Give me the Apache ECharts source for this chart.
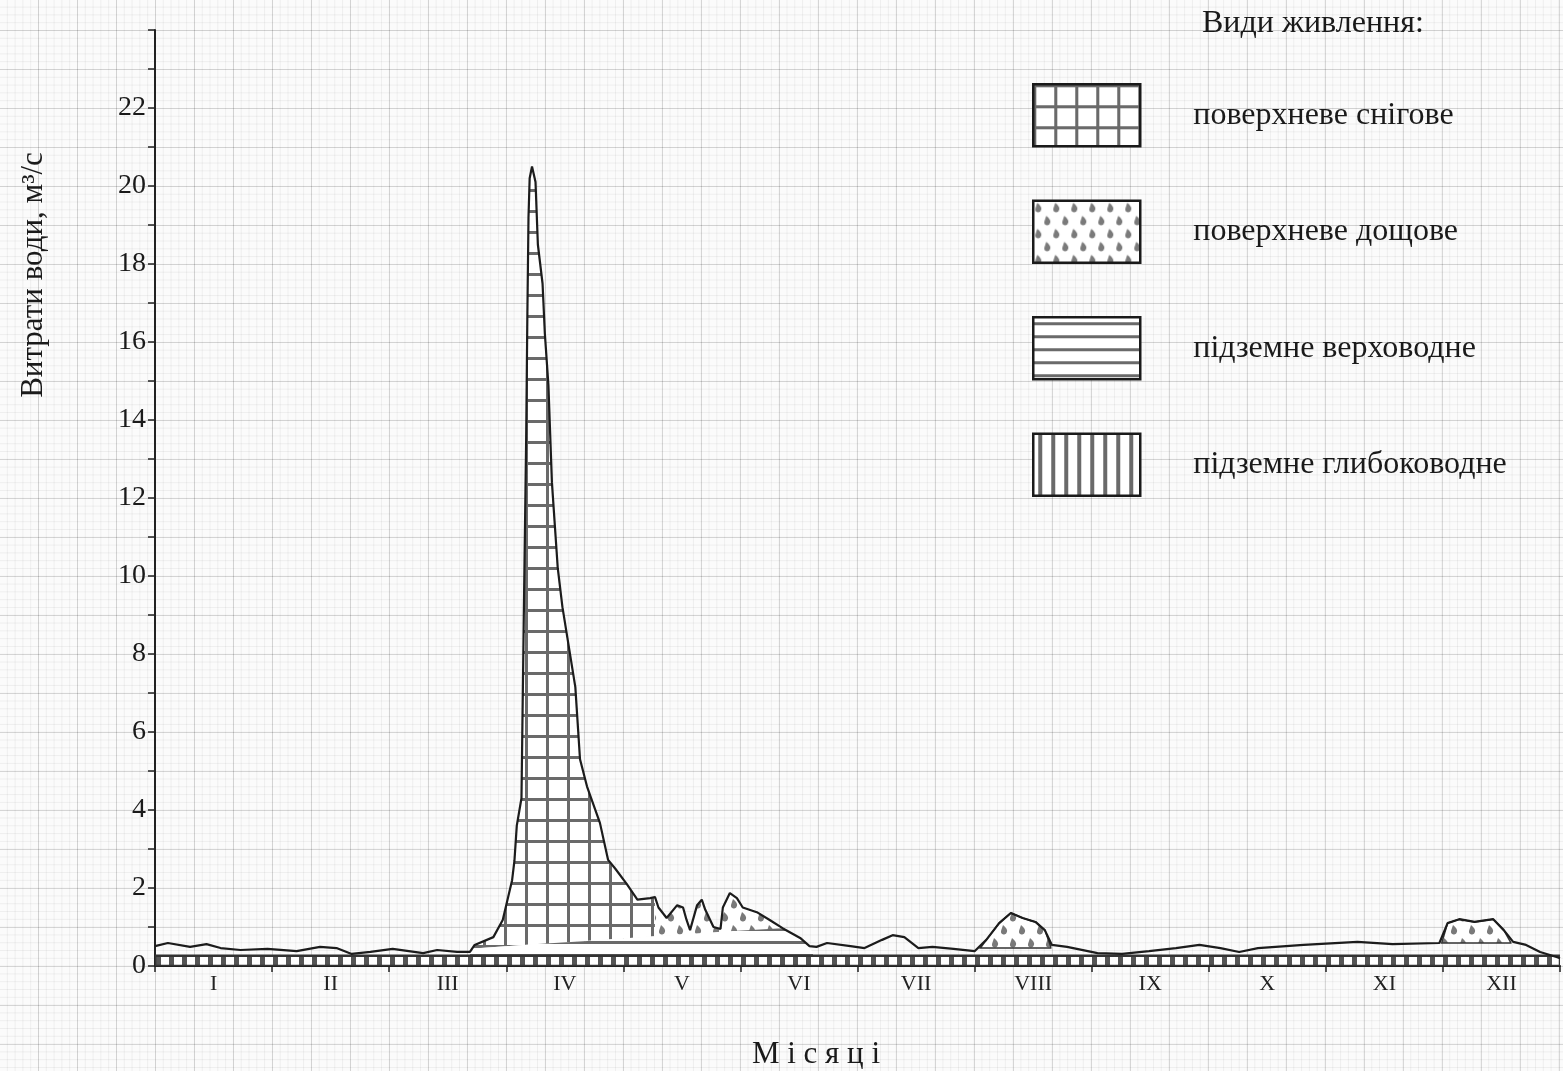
<!DOCTYPE html>
<html>
<head>
<meta charset="utf-8">
<script src="https://cdn.jsdelivr.net/npm/echarts@6/dist/echarts.min.js"></script>
<style>
html,body{margin:0;padding:0;width:1563px;height:1071px;overflow:hidden;}
body{
  background-color:#fbfbfb;
  background-image:
    linear-gradient(to right, rgba(0,0,0,0.12) 1px, transparent 1px),
    linear-gradient(to bottom, rgba(0,0,0,0.12) 1px, transparent 1px),
    linear-gradient(to right, rgba(0,0,0,0.05) 1px, transparent 1px),
    linear-gradient(to bottom, rgba(0,0,0,0.05) 1px, transparent 1px);
  background-size:39px 39px,39px 39px,7.8px 7.8px,7.8px 7.8px;
  background-position:38px 30px,38px 30px,38px 30px,38px 30px;
}
#chart{width:1563px;height:1071px;}
</style>
</head>
<body>
<div id="chart"></div>
<script>
// ---- data (x in months from 1 Jan, y in m3/s) ----
const months = ['I','II','III','IV','V','VI','VII','VIII','IX','X','XI','XII'];
const legendNames = ['поверхневе снігове','поверхневе дощове','підземне верховодне','підземне глибоководне'];

// total discharge (hydrograph)
const flowT = [0,0.11,0.30,0.44,0.56,0.73,0.96,1.21,1.41,1.55,1.68,1.84,2.03,2.29,2.41,2.58,2.69,2.73,2.89,2.97,3.05,3.07,3.09,3.13,3.15,3.17,3.18,3.19,3.20,3.22,3.25,3.27,3.31,3.33,3.36,3.39,3.44,3.48,3.59,3.63,3.69,3.80,3.87,3.93,4.03,4.12,4.23,4.27,4.30,4.37,4.46,4.51,4.54,4.57,4.63,4.67,4.70,4.77,4.83,4.85,4.91,4.97,5.02,5.14,5.25,5.36,5.51,5.59,5.65,5.74,5.94,6.06,6.21,6.30,6.40,6.52,6.64,6.82,7.00,7.10,7.21,7.31,7.41,7.52,7.60,7.66,7.79,8.05,8.26,8.49,8.72,8.92,9.10,9.26,9.42,9.81,10.27,10.57,10.97,11.04,11.14,11.27,11.43,11.52,11.60,11.71,11.83,11.97,12];
const flowQ = [0.51,0.59,0.49,0.56,0.46,0.41,0.44,0.38,0.49,0.46,0.31,0.36,0.44,0.33,0.41,0.36,0.36,0.54,0.74,1.18,2.2,2.7,3.6,4.3,9.0,13.5,16.6,19.2,20.2,20.5,20.1,18.5,17.5,16.2,14.9,12.4,10.2,9.2,7.15,5.3,4.6,3.67,2.72,2.5,2.1,1.7,1.74,1.77,1.5,1.23,1.56,1.5,1.18,0.92,1.56,1.7,1.44,1.0,0.95,1.5,1.87,1.74,1.5,1.38,1.18,0.97,0.72,0.51,0.49,0.59,0.51,0.46,0.67,0.79,0.74,0.46,0.49,0.44,0.38,0.67,1.1,1.36,1.23,1.13,0.92,0.54,0.49,0.33,0.31,0.38,0.46,0.54,0.46,0.36,0.46,0.54,0.62,0.56,0.59,1.1,1.2,1.13,1.2,0.92,0.62,0.54,0.36,0.23,0.2];

// snow-fed flood (top edge = hydrograph, bottom edge = top of perched groundwater)
const snowTop = [[2.71,0.45],[2.73,0.54],[2.89,0.74],[2.97,1.18],[3.05,2.2],[3.07,2.7],[3.09,3.6],[3.13,4.3],[3.15,9.0],[3.17,13.5],[3.18,16.6],[3.19,19.2],[3.20,20.2],[3.22,20.5],[3.25,20.1],[3.27,18.5],[3.31,17.5],[3.33,16.2],[3.36,14.9],[3.39,12.4],[3.44,10.2],[3.48,9.2],[3.59,7.15],[3.63,5.3],[3.69,4.6],[3.80,3.67],[3.87,2.72],[3.93,2.5],[4.03,2.1],[4.12,1.7],[4.23,1.74],[4.27,1.77]];
const snowBottom = [[4.27,0.76],[2.71,0.45]];

// rain-fed floods
const rainMayTop = [[4.27,1.77],[4.30,1.5],[4.37,1.23],[4.46,1.56],[4.51,1.5],[4.54,1.18],[4.57,0.92],[4.63,1.56],[4.67,1.7],[4.70,1.44],[4.77,1.0],[4.83,0.95],[4.85,1.5],[4.91,1.87],[4.97,1.74],[5.02,1.5],[5.14,1.38],[5.25,1.18],[5.36,0.97]];
const rainMayBottom = [[5.36,0.95],[4.27,0.76]];
const rainAugTop = [[7.05,0.46],[7.10,0.67],[7.21,1.1],[7.31,1.36],[7.41,1.23],[7.52,1.13],[7.60,0.92],[7.65,0.5]];
const rainAugBottom = [[7.65,0.46],[7.05,0.46]];
const rainDecTop = [[10.99,0.59],[11.04,1.1],[11.14,1.2],[11.27,1.13],[11.43,1.2],[11.52,0.92],[11.58,0.6]];
const rainDecBottom = [[11.58,0.59],[10.99,0.59]];

// perched (upper) groundwater wedge
const perchedTop = [[2.69,0.30],[2.73,0.45],[3.2,0.55],[3.8,0.66],[4.3,0.77],[4.9,0.89],[5.36,0.97],[5.51,0.72],[5.59,0.51],[5.62,0.30]];
const perchedBottom = [[5.62,0.26],[2.69,0.26]];

// deep groundwater base strip
const deepTop = [[0,0.26],[12,0.26]];
const deepBottom = [[12,0],[0,0]];

// ---- patterns ----
function mk(w,h,draw){const c=document.createElement('canvas');c.width=w;c.height=h;const g=c.getContext('2d');g.fillStyle='#ffffff';g.fillRect(0,0,w,h);draw(g);return {image:c,repeat:'repeat'};}
const patGrid = mk(21,21,g=>{g.fillStyle='#6a6a6a';g.fillRect(0,0,3,21);g.fillRect(0,0,21,3);});
const patDrops = mk(18,26,g=>{
  g.fillStyle='#7a7a7a';
  function drop(x,y){g.beginPath();g.moveTo(x-1,y-5);g.quadraticCurveTo(x+4,y-1,x+3,y+2);g.arc(x,y+1.5,3,0.2,Math.PI*1.1);g.closePath();g.fill();}
  drop(5,7);drop(14,20);
});
const patHoriz = mk(4,13,g=>{g.fillStyle='#6a6a6a';g.fillRect(0,5,4,3);});
const patVert = mk(13,4,g=>{g.fillStyle='#6a6a6a';g.fillRect(5,0,4,4);});
const patDeep = mk(13,4,g=>{g.fillStyle='#555555';g.fillRect(0,0,5,4);});

function ring(top,bottom){return top.concat(bottom);}
function polySeries(name,pts,fill,z,stroke,lw){
  return {
    name:name,type:'custom',coordinateSystem:'cartesian2d',xAxisIndex:0,yAxisIndex:0,
    z:z,clip:true,silent:true,
    data:pts,encode:{x:0,y:1},
    itemStyle:{color:fill},
    renderItem:function(params,api){
      if(params.dataIndex!==0) return null;
      const p=[];for(let i=0;i<pts.length;i++){p.push(api.coord(pts[i]));}
      return {type:'polygon',shape:{points:p},style:{fill:fill,stroke:stroke||null,lineWidth:lw||0}};
    }
  };
}

const flowData = flowT.map((t,i)=>[t,flowQ[i]]);
const serif = '"Liberation Serif","DejaVu Serif",serif';

const chart = echarts.init(document.getElementById('chart'),null,{renderer:'canvas'});
chart.setOption({
  animation:false,
  backgroundColor:'transparent',
  title:{text:'Види живлення:',left:1202,top:8,padding:0,textStyle:{fontFamily:serif,fontSize:32,fontWeight:'normal',color:'#1a1a1a'}},
  legend:{
    orient:'vertical',left:1032,top:83,padding:0,itemWidth:107,itemHeight:62,itemGap:52,
    selectedMode:false,
    textStyle:{fontFamily:serif,fontSize:32,color:'#1a1a1a',padding:[0,0,6,48]},
    data:[
      {name:legendNames[0],icon:'rect',itemStyle:{color:patGrid,borderColor:'#1a1a1a',borderWidth:2.5}},
      {name:legendNames[1],icon:'rect',itemStyle:{color:patDrops,borderColor:'#1a1a1a',borderWidth:2.5}},
      {name:legendNames[2],icon:'rect',itemStyle:{color:patHoriz,borderColor:'#1a1a1a',borderWidth:2.5}},
      {name:legendNames[3],icon:'rect',itemStyle:{color:patVert,borderColor:'#1a1a1a',borderWidth:2.5}}
    ]
  },
  grid:{left:155,right:3,top:30,bottom:105,containLabel:false},
  xAxis:[
    {type:'value',min:0,max:12,interval:1,
     axisLine:{show:true,onZero:false,lineStyle:{color:'#222',width:2}},
     axisTick:{show:true,length:6,lineStyle:{color:'#222',width:1.5}},
     axisLabel:{show:false},splitLine:{show:false}},
    {type:'category',data:months,position:'bottom',boundaryGap:true,
     axisLine:{show:false},axisTick:{show:false},splitLine:{show:false},
     axisLabel:{fontFamily:serif,fontSize:22,color:'#222',margin:7}}
  ],
  yAxis:{type:'value',min:0,max:24,interval:2,
    axisLine:{show:true,lineStyle:{color:'#222',width:2}},
    axisTick:{show:true,length:7,lineStyle:{color:'#222',width:1.5}},
    minorTick:{show:true,splitNumber:2,length:7,lineStyle:{color:'#222',width:1.5}},
    splitLine:{show:false},
    axisLabel:{fontFamily:serif,fontSize:28,color:'#1a1a1a',margin:9,
      formatter:function(v){return v===24?'':String(v);}}
  },
  graphic:[
    {type:'text',x:34,y:275,rotation:Math.PI/2,style:{text:'Витрати води, м³/с',font:'31px '+serif,fill:'#1a1a1a',align:'center',verticalAlign:'middle'}},
    {type:'text',x:816,y:1055,style:{text:'М і с я ц і',font:'31px '+serif,fill:'#1a1a1a',align:'center',verticalAlign:'middle'}}
  ],
  series:[
    polySeries(legendNames[0],ring(snowTop,snowBottom),patGrid,2),
    polySeries(legendNames[1],ring(rainMayTop,rainMayBottom),patDrops,2),
    polySeries(legendNames[1]+' ',ring(rainAugTop,rainAugBottom),patDrops,2,'#333',1.5),
    polySeries(legendNames[1]+'  ',ring(rainDecTop,rainDecBottom),patDrops,2,'#333',1.5),
    polySeries(legendNames[2],ring(perchedTop,perchedBottom),patHoriz,3),
    polySeries(legendNames[3],ring(deepTop,deepBottom),patDeep,4,'#333',2.5),
    {name:'hydro',type:'line',data:flowData,showSymbol:false,symbol:'none',z:6,silent:true,
     lineStyle:{color:'#1c1c1c',width:2.2},smooth:false}
  ]
});
</script>
</body>
</html>
